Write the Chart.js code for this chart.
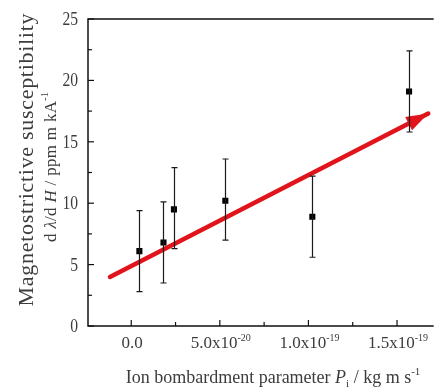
<!DOCTYPE html>
<html lang="en">
<head>
<meta charset="UTF-8">
<title>Magnetostrictive susceptibility vs ion bombardment</title>
<script src="https://cdn.jsdelivr.net/npm/chart.js"></script>
<style>
  html, body { margin: 0; padding: 0; background: #fff; overflow: hidden; }
  #wrap { width: 438px; height: 390px; }
</style>
</head>
<body>
<div id="wrap"><canvas id="chart" width="438" height="390"></canvas></div>
<script>
// x values are in units of 1e-20 kg m s^-1
const pi = [0.46, 1.82, 2.41, 5.31, 10.22, 15.68];
const susc = [6.1, 6.8, 9.5, 10.2, 8.9, 19.1];
const errLow = [2.8, 3.5, 6.3, 7.0, 5.6, 15.8];
const errHigh = [9.4, 10.1, 12.9, 13.6, 12.2, 22.4];
// red trend arrow, start -> tip
const trendX = [-1.2, 16.76];
const trendY = [4.0, 17.3];

const TXT = '#3c3c3c';
const SERIF = '"Liberation Serif", "DejaVu Serif", serif';
const RED = '#e0141a';
const STEP = 2.5; // minor tick step on both axes, labels every 5

// draw a list of text runs centred on x, char by char
function drawRuns(ctx, runs, x, y, spacing) {
  const parts = [];
  runs.forEach(r => {
    ctx.font = r.font;
    for (const ch of r.t) parts.push({ ch, font: r.font, dy: r.dy || 0, w: ctx.measureText(ch).width });
  });
  const total = parts.reduce((s, p) => s + p.w, 0) + spacing * (parts.length - 1);
  let cx = x - total / 2;
  parts.forEach(p => {
    ctx.font = p.font;
    ctx.fillText(p.ch, cx, y + p.dy);
    cx += p.w + spacing;
  });
}

function xLabel(v) {
  if (v === 0) return [{ t: '0.0', font: '17px ' + SERIF }];
  const real = v * 1e-20;
  const e = Math.floor(Math.log10(real) + 1e-9);
  const m = (real / Math.pow(10, e)).toFixed(1);
  return [
    { t: m + 'x10', font: '17px ' + SERIF },
    { t: String(e), font: '10px ' + SERIF, dy: -7 }
  ];
}

function tickValues(scale) {
  const out = [];
  for (let v = Math.ceil(scale.min / STEP) * STEP; v <= scale.max + 1e-9; v += STEP) out.push(v);
  return out;
}
const isMajor = v => Math.abs(v / 5 - Math.round(v / 5)) < 1e-6;

const decor = {
  id: 'decor',
  afterDatasetsDraw(chart) {
    const ctx = chart.ctx;
    const xs = chart.scales.x, ys = chart.scales.y;
    const a = chart.chartArea;

    // arrow head at the trend tip
    const x0 = xs.getPixelForValue(trendX[0]), y0 = ys.getPixelForValue(trendY[0]);
    const x1 = xs.getPixelForValue(trendX[1]), y1 = ys.getPixelForValue(trendY[1]);
    const ang = Math.atan2(y1 - y0, x1 - x0);
    const len = 22, half = 7.5;
    ctx.save();
    ctx.fillStyle = RED;
    ctx.beginPath();
    ctx.moveTo(x1, y1);
    ctx.lineTo(x1 - len * Math.cos(ang) + half * Math.sin(ang), y1 - len * Math.sin(ang) - half * Math.cos(ang));
    ctx.lineTo(x1 - len * Math.cos(ang) - half * Math.sin(ang), y1 - len * Math.sin(ang) + half * Math.cos(ang));
    ctx.closePath();
    ctx.fill();
    ctx.restore();

    // error bars
    ctx.save();
    ctx.strokeStyle = '#1a1a1a';
    ctx.lineWidth = 1.2;
    pi.forEach((v, i) => {
      const px = Math.round(xs.getPixelForValue(v)) + 0.5;
      const lo = ys.getPixelForValue(errLow[i]), hi = ys.getPixelForValue(errHigh[i]);
      ctx.beginPath();
      ctx.moveTo(px, lo); ctx.lineTo(px, hi);
      ctx.moveTo(px - 3, lo); ctx.lineTo(px + 3, lo);
      ctx.moveTo(px - 3, hi); ctx.lineTo(px + 3, hi);
      ctx.stroke();
    });
    ctx.restore();

    // frame: left, bottom, top
    ctx.save();
    ctx.strokeStyle = '#111';
    ctx.lineWidth = 1.5;
    ctx.beginPath();
    ctx.moveTo(a.right, a.top); ctx.lineTo(a.left, a.top);
    ctx.lineTo(a.left, a.bottom); ctx.lineTo(a.right, a.bottom);
    ctx.stroke();

    // inward ticks + labels
    ctx.lineWidth = 1.2;
    ctx.fillStyle = TXT;
    tickValues(ys).forEach(v => {
      const major = isMajor(v);
      const py = ys.getPixelForValue(v);
      ctx.beginPath();
      ctx.moveTo(a.left, py); ctx.lineTo(a.left + (major ? 6 : 4), py);
      ctx.stroke();
      if (major) {
        // tall, narrow numerals like the original
        ctx.save();
        ctx.translate(a.left - 10, py + 1);
        ctx.scale(0.82, 1);
        ctx.font = '19px ' + SERIF;
        ctx.textAlign = 'right';
        ctx.textBaseline = 'middle';
        ctx.fillText(String(v), 0, 0);
        ctx.restore();
      }
    });
    ctx.textAlign = 'left';
    ctx.textBaseline = 'alphabetic';
    tickValues(xs).forEach(v => {
      const major = isMajor(v);
      const px = xs.getPixelForValue(v);
      ctx.beginPath();
      ctx.moveTo(px, a.bottom); ctx.lineTo(px, a.bottom - (major ? 6 : 4));
      ctx.stroke();
      if (major) drawRuns(ctx, xLabel(v), px + 1, 348, 0);
    });

    // x title
    drawRuns(ctx, [
      { t: 'Ion bombardment parameter ', font: '18px ' + SERIF },
      { t: 'P', font: 'italic 18px ' + SERIF },
      { t: 'i', font: '11px ' + SERIF, dy: 4 },
      { t: ' / kg m s', font: '18px ' + SERIF },
      { t: '-1', font: '11px ' + SERIF, dy: -8 }
    ], 273, 383, 0);

    // y title, two rotated lines
    ctx.save();
    ctx.translate(33, 160);
    ctx.rotate(-Math.PI / 2);
    drawRuns(ctx, [{ t: 'Magnetostrictive susceptibility', font: '22px ' + SERIF }], 0, 0, 0.7);
    ctx.restore();
    ctx.save();
    ctx.translate(56, 167);
    ctx.rotate(-Math.PI / 2);
    drawRuns(ctx, [
      { t: 'd ', font: '17px ' + SERIF },
      { t: '\u03bb', font: 'italic 17px ' + SERIF },
      { t: '/d ', font: '17px ' + SERIF },
      { t: 'H', font: 'italic 17px ' + SERIF },
      { t: ' / ppm m kA', font: '17px ' + SERIF },
      { t: '-1', font: '10px ' + SERIF, dy: -8 }
    ], 0, 0, 0.3);
    ctx.restore();
    ctx.restore();
  }
};

new Chart(document.getElementById('chart'), {
  type: 'scatter',
  data: {
    datasets: [
      {
        label: 'trend',
        data: trendX.map((x, i) => ({ x, y: trendY[i] })),
        showLine: true,
        borderColor: RED,
        borderWidth: 4.5,
        borderCapStyle: 'round',
        pointRadius: 0,
        order: 2
      },
      {
        label: 'measured',
        data: pi.map((x, i) => ({ x, y: susc[i] })),
        pointStyle: 'rect',
        pointRadius: 4.3,
        borderWidth: 0,
        backgroundColor: '#000',
        order: 1
      }
    ]
  },
  options: {
    responsive: false,
    animation: false,
    events: [],
    layout: { padding: { top: 19, right: 0, left: 0, bottom: 0 } },
    plugins: { legend: { display: false }, tooltip: { enabled: false } },
    scales: {
      x: {
        type: 'linear',
        min: -2.44, max: 17.07,
        ticks: { display: false },
        grid: { display: false },
        border: { display: false },
        afterFit(s) { s.height = 64; }
      },
      y: {
        min: 0, max: 25,
        ticks: { display: false },
        grid: { display: false },
        border: { display: false },
        afterFit(s) { s.width = 88; }
      }
    }
  },
  plugins: [decor]
});
</script>
</body>
</html>
